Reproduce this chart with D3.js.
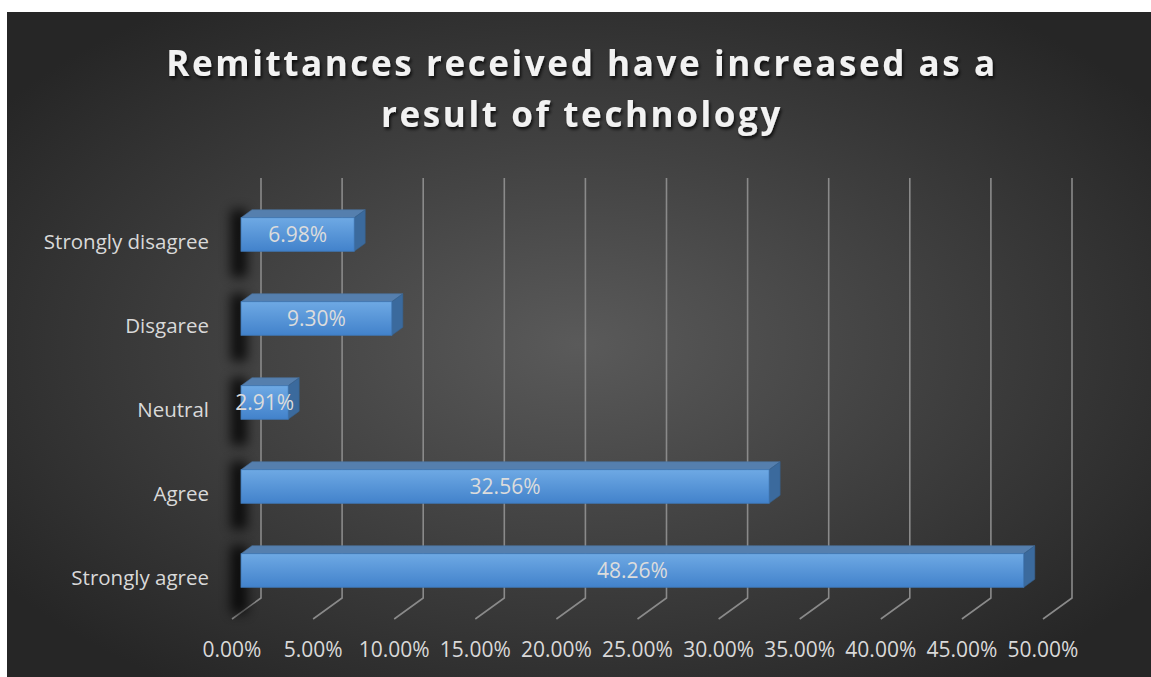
<!DOCTYPE html>
<html>
<head>
<meta charset="utf-8">
<script src="https://cdn.jsdelivr.net/npm/d3@7"></script>
<style>
  html, body { margin: 0; padding: 0; background: #ffffff; }
  svg { display: block; }
  text { font-family: "Open Sans", "Noto Sans", sans-serif; }
</style>
</head>
<body>
<svg id="chart" width="1151" height="677"></svg>
<script>
// Survey responses (share of respondents)
const categories = ["Strongly agree", "Agree", "Neutral", "Disgaree", "Strongly disagree"];
const values = [0.4826, 0.3256, 0.0291, 0.0930, 0.0698];
const tickValues = [0, 0.05, 0.10, 0.15, 0.20, 0.25, 0.30, 0.35, 0.40, 0.45, 0.50];
const titleLines = ["Remittances received have increased as a", "result of technology"];

const W = 1151, H = 677;
const svg = d3.select("#chart");
const defs = svg.append("defs");

// Background panel gradient
const bg = defs.append("radialGradient").attr("id", "bgGrad")
  .attr("cx", "50%").attr("cy", "50%").attr("r", "62%");
bg.append("stop").attr("offset", "0%").attr("stop-color", "#5a5a5a");
bg.append("stop").attr("offset", "100%").attr("stop-color", "#262626");

// Bar face gradients
const front = defs.append("linearGradient").attr("id", "frontGrad")
  .attr("x1", 0).attr("y1", 0).attr("x2", 0).attr("y2", 1);
front.append("stop").attr("offset", "0%").attr("stop-color", "#6ea9e4");
front.append("stop").attr("offset", "100%").attr("stop-color", "#4282cb");

const shadowBlur = defs.append("filter").attr("id", "shadowBlur")
  .attr("x", "-100%").attr("y", "-100%").attr("width", "300%").attr("height", "300%");
shadowBlur.append("feGaussianBlur").attr("stdDeviation", 6);

const titleShadow = defs.append("filter").attr("id", "titleShadow")
  .attr("x", "-10%").attr("y", "-30%").attr("width", "120%").attr("height", "160%");
titleShadow.append("feDropShadow").attr("dx", 1.5).attr("dy", 2.5)
  .attr("stdDeviation", 1.6).attr("flood-color", "#000").attr("flood-opacity", 0.75);

svg.append("rect").attr("x", 7).attr("y", 12).attr("width", W - 7).attr("height", H - 12)
  .attr("fill", "url(#bgGrad)");

// 3D geometry: back wall and depth offset toward the viewer
const x = d3.scaleLinear().domain([0, 0.5]).range([261, 1072]);
const wallTop = 178, wallBottom = 598;
const depthDX = -29, depthDY = 21;
const y = d3.scaleBand().domain(categories).range([wallBottom, wallTop])
  .paddingInner(0.6).paddingOuter(0.3);

// Gridlines: vertical on the back wall, diagonal across the floor
const grid = svg.append("g").attr("stroke", "#8a8a8a").attr("stroke-width", 1.6).attr("fill", "none");
tickValues.forEach(t => {
  grid.append("path").attr("d",
    `M${x(t)},${wallTop} L${x(t)},${wallBottom} L${x(t) + depthDX},${wallBottom + depthDY}`);
});

// Tick labels along the front edge of the floor
const fmt = d3.format(".2%");
svg.append("g").selectAll("text").data(tickValues).join("text")
  .attr("x", d => x(d) + depthDX)
  .attr("y", 649)
  .attr("text-anchor", "middle")
  .attr("dominant-baseline", "central")
  .attr("fill", "#d9d9d9")
  .attr("font-size", 21)
  .text(d => fmt(d));

// Category labels
svg.append("g").selectAll("text").data(categories).join("text")
  .attr("x", 209)
  .attr("y", d => y(d) + y.bandwidth() / 2 + depthDY)
  .attr("text-anchor", "end")
  .attr("dominant-baseline", "central")
  .attr("fill", "#d9d9d9")
  .attr("font-size", 20.5)
  .text(d => d);

// Bars: box spanning part of the depth
const dBack = 0.31, dFront = 0.69;
const bw = y.bandwidth();
const bars = svg.append("g");
categories.forEach((c, i) => {
  const v = values[i];
  const y0 = y(c);
  const fx0 = x(0) + depthDX * dFront, fx1 = x(v) + depthDX * dFront;
  const fy0 = y0 + depthDY * dFront, fy1 = fy0 + bw;
  const ox = (dBack - dFront) * depthDX, oy = (dBack - dFront) * depthDY; // front -> back offset

  // soft shadow cast onto the wall
  bars.append("rect")
    .attr("x", fx0 - 10).attr("y", fy0 - 8)
    .attr("width", 16).attr("height", bw + 34)
    .attr("fill", "#000").attr("opacity", 0.8)
    .attr("filter", "url(#shadowBlur)");

  // top face
  bars.append("path")
    .attr("d", `M${fx0},${fy0} L${fx0 + ox},${fy0 + oy} L${fx1 + ox},${fy0 + oy} L${fx1},${fy0} Z`)
    .attr("fill", "#557fae").attr("stroke", "#4a72a0").attr("stroke-width", 0.6);
  // right side face
  bars.append("path")
    .attr("d", `M${fx1},${fy0} L${fx1 + ox},${fy0 + oy} L${fx1 + ox},${fy1 + oy} L${fx1},${fy1} Z`)
    .attr("fill", "#3b6a9d").attr("stroke", "#36618f").attr("stroke-width", 0.6);
  // front face
  bars.append("rect")
    .attr("x", fx0).attr("y", fy0).attr("width", fx1 - fx0).attr("height", bw)
    .attr("fill", "url(#frontGrad)").attr("stroke", "#3f77b5").attr("stroke-width", 0.8);

  // value label
  bars.append("text")
    .attr("x", (fx0 + fx1) / 2)
    .attr("y", fy0 + bw / 2)
    .attr("text-anchor", "middle")
    .attr("dominant-baseline", "central")
    .attr("fill", "#dcdcdc")
    .attr("font-size", 21)
    .text(fmt(v));
});

// Title
const title = svg.append("g").attr("filter", "url(#titleShadow)");
titleLines.forEach((line, i) => {
  title.append("text")
    .attr("x", 582)
    .attr("y", 62 + i * 51)
    .attr("text-anchor", "middle")
    .attr("dominant-baseline", "central")
    .attr("fill", "#f2f2f2")
    .attr("font-size", 35)
    .attr("font-weight", "bold")
    .attr("letter-spacing", 2.6)
    .text(line);
});
</script>
</body>
</html>
